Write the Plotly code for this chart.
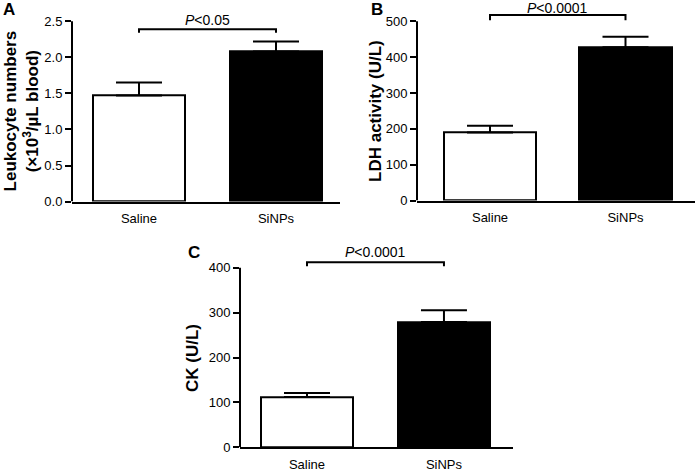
import plotly.graph_objects as go

W, H = 696, 475

categories = ["Saline", "SiNPs"]
bar_colors = ["white", "black"]

# Panel A: leukocytes (×10^3/µL blood)
leuko_mean = [1.47, 2.08]
leuko_err = [0.18, 0.14]
# Panel B: LDH activity (U/L)
ldh_mean = [190, 428]
ldh_err = [19, 29]
# Panel C: CK (U/L)
ck_mean = [112, 279]
ck_err = [9, 26]

p_texts = ["<i>P</i>&lt;0.05", "<i>P</i>&lt;0.0001", "<i>P</i>&lt;0.0001"]
ytick_A = [0.0, 0.5, 1.0, 1.5, 2.0, 2.5]
ytick_B = [0, 100, 200, 300, 400, 500]
ytick_C = [0, 100, 200, 300, 400]

FONT = "Arial, Liberation Sans, sans-serif"

panels = [
    dict(name="A", mean=leuko_mean, err=leuko_err, ticks=ytick_A, tickfmt=".1f",
         xpx=(72, 340), zero=205, toppx=21.7, range_top=2.75, xrange=[-0.489, 1.467],
         width=0.67, bracket=(2.39, 2.34), ptext=2.52,
         title="Leukocyte numbers<br>(×10<sup>3</sup>/µL blood)", title_x=21,
         letter=(9, 10)),
    dict(name="B", mean=ldh_mean, err=ldh_err, ticks=ytick_B, tickfmt="d",
         xpx=(417, 695), zero=204, toppx=21.7, range_top=556, xrange=[-0.539, 1.513],
         width=0.68, bracket=(518, 503), ptext=537,
         title="LDH activity (U/L)", title_x=376, letter=(377, 10)),
    dict(name="C", mean=ck_mean, err=ck_err, ticks=ytick_C, tickfmt="d",
         xpx=(240, 513), zero=455, toppx=272.3, range_top=450, xrange=[-0.489, 1.504],
         width=0.67, bracket=(412, 403.5), ptext=434,
         title="CK (U/L)", title_x=192.5, letter=(194, 257)),
]

fig = go.Figure()
shapes = []
annotations = []

for i, p in enumerate(panels):
    sfx = "" if i == 0 else str(i + 1)
    xa, ya = "x" + sfx, "y" + sfx
    top_tick = p["ticks"][-1]
    fig.add_trace(go.Bar(
        x=[0, 1], y=p["mean"], width=p["width"],
        marker=dict(color=bar_colors, line=dict(color="black", width=2)),
        error_y=dict(type="data", symmetric=False, array=p["err"],
                     arrayminus=[0, 0], color="black", thickness=2, width=23),
        xaxis=xa, yaxis=ya, showlegend=False, hoverinfo="skip",
    ))
    scale = (p["zero"] - p["toppx"]) / top_tick
    top_px = p["zero"] - scale * p["range_top"]
    ydom = [1 - p["zero"] / H, min(1.0, 1 - top_px / H)]
    xdom = [p["xpx"][0] / W, p["xpx"][1] / W]
    fig.layout["xaxis" + sfx] = dict(
        domain=xdom, range=p["xrange"], anchor=ya, tickvals=[0, 1], ticktext=categories,
        showline=True, linecolor="black", linewidth=2, ticks="", showgrid=False,
        zeroline=False, tickfont=dict(family=FONT, size=13, color="black"),
        ticklabelstandoff=4, fixedrange=True)
    fig.layout["yaxis" + sfx] = dict(
        domain=ydom, range=[0, p["range_top"]], anchor=xa, tickvals=p["ticks"],
        tickformat=p["tickfmt"], showline=False, ticks="outside", ticklen=6,
        tickwidth=2, tickcolor="black", showgrid=False, zeroline=False,
        tickfont=dict(family=FONT, size=13, color="black"), fixedrange=True)
    # y axis line drawn only up to the top tick
    shapes.append(dict(type="line", xref=xa + " domain", yref=ya, x0=0, x1=0,
                       y0=0, y1=top_tick, line=dict(color="black", width=2)))
    # significance bracket
    bt, bb = p["bracket"]
    shapes.append(dict(type="path", xref=xa, yref=ya,
                       path=f"M 0,{bb} L 0,{bt} L 1,{bt} L 1,{bb}",
                       line=dict(color="black", width=2)))
    annotations.append(dict(text=p_texts[i], x=0.5, y=p["ptext"], xref=xa, yref=ya,
                            showarrow=False, font=dict(family=FONT, size=14, color="black"),
                            xanchor="center", yanchor="middle"))
    annotations.append(dict(text="<b>" + p["title"] + "</b>", textangle=-90,
                            x=p["title_x"] / W, y=1 - (p["zero"] + p["toppx"]) / 2 / H,
                            xref="paper", yref="paper", showarrow=False,
                            xanchor="center", yanchor="middle",
                            font=dict(family=FONT, size=17, color="black")))
    lx, ly = p["letter"]
    annotations.append(dict(text="<b>" + p["name"] + "</b>", x=lx / W, y=1 - ly / H,
                            xref="paper", yref="paper", showarrow=False,
                            xanchor="center", yanchor="middle",
                            font=dict(family=FONT, size=17, color="black")))

fig.update_layout(
    width=W, height=H, autosize=False, margin=dict(l=0, r=0, t=0, b=0),
    paper_bgcolor="white", plot_bgcolor="white",
    shapes=shapes, annotations=annotations, bargap=0,
    font=dict(family=FONT, color="black"),
)

fig.write_html("out.html", config={"displayModeBar": False, "responsive": False},
               post_script="document.documentElement.style.overflow='hidden';document.body.style.margin='0';")
